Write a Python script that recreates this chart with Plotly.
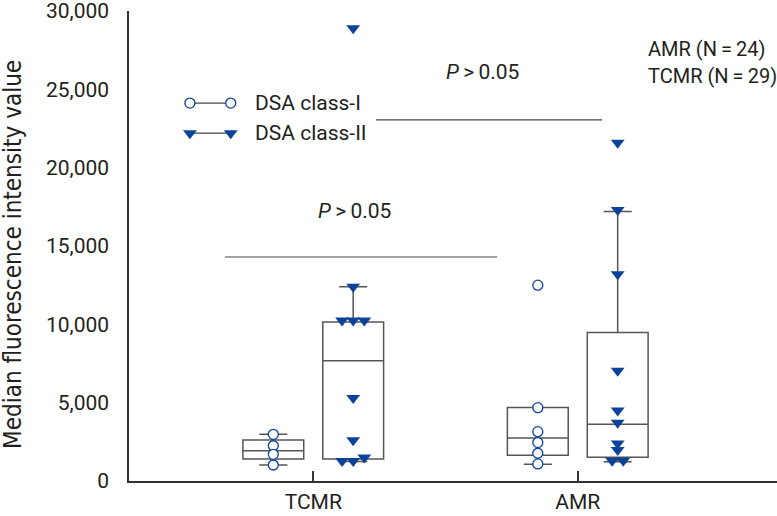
import plotly.graph_objects as go

# ---------------- data ----------------
categories = ["TCMR", "AMR"]

# individual points
tcmr_class1 = [2980, 2250, 1700, 1020]
tcmr_class2 = [28900, 12400, 10250, 10250, 10250, 5300, 2600, 1500, 1280, 1280]
amr_class1 = [12500, 4680, 3150, 2450, 1770, 1090]
amr_class2 = [21600, 17300, 13200, 7040, 4500, 3720, 2400, 1980, 1300, 1300]

# box statistics per category (TCMR, AMR)
class1_q1 = [1400, 1640]
class1_median = [1930, 2740]
class1_q3 = [2620, 4700]
class1_lower = [1020, 1070]
class1_upper = [2980, 4700]

class2_q1 = [1400, 1510]
class2_median = [7680, 3620]
class2_q3 = [10150, 9480]
class2_lower = [1250, 1230]
class2_upper = [12400, 17200]

y_ticks = [0, 5000, 10000, 15000, 20000, 25000, 30000]

# ---------------- styling / layout ----------------
FONT = "Roboto, Liberation Sans, sans-serif"
TITLE_FONT = "DejaVu Sans Condensed, Roboto, sans-serif"
FS = 21
TXT = "#231f20"
BLUE = "#0b429a"
BOXLINE = "#555555"
OFFSET = 0.151       # half distance between class-I and class-II boxes
BOXW = 0.23
DX = 0.042           # horizontal spread between overlapping markers
ROW_TOL = 380        # values closer than this share a row

pos = {c: i + 1 for i, c in enumerate(categories)}


def swarm(values, center):
    """Spread overlapping points side by side (centred rows)."""
    order = sorted(range(len(values)), key=lambda i: values[i])
    rows, cur = [], [order[0]]
    for i in order[1:]:
        if values[i] - values[cur[-1]] < ROW_TOL:
            cur.append(i)
        else:
            rows.append(cur)
            cur = [i]
    rows.append(cur)
    xs = [0.0] * len(values)
    for r in rows:
        n = len(r)
        for k, i in enumerate(r):
            xs[i] = center + (k - (n - 1) / 2) * DX
    return xs


fig = go.Figure()

xs1 = [pos[c] - OFFSET for c in categories]
xs2 = [pos[c] + OFFSET for c in categories]

for xs, q1, med, q3, lo, hi in [
    (xs1, class1_q1, class1_median, class1_q3, class1_lower, class1_upper),
    (xs2, class2_q1, class2_median, class2_q3, class2_lower, class2_upper),
]:
    fig.add_trace(go.Box(
        x=xs, q1=q1, median=med, q3=q3, lowerfence=lo, upperfence=hi,
        width=BOXW, whiskerwidth=0.46,
        line=dict(color=BOXLINE, width=1.5),
        fillcolor="rgba(0,0,0,0)", boxpoints=False, showlegend=False,
        hoverinfo="skip",
    ))

series = [
    (tcmr_class1, pos["TCMR"] - OFFSET, "circle-open"),
    (amr_class1, pos["AMR"] - OFFSET, "circle-open"),
    (tcmr_class2, pos["TCMR"] + OFFSET, "triangle-down"),
    (amr_class2, pos["AMR"] + OFFSET, "triangle-down"),
]
CIRCLE = dict(symbol="circle", size=10, color="white",
              line=dict(color=BLUE, width=1.3))
TRI = dict(symbol="triangle-down", size=12, color=BLUE, line=dict(width=0))
for vals, cx, sym in series:
    mk = CIRCLE if sym == "circle-open" else TRI
    fig.add_trace(go.Scatter(
        x=swarm(vals, cx), y=vals, mode="markers", marker=mk,
        showlegend=False, cliponaxis=False, hoverinfo="skip",
    ))

# manual legend on an overlay axis (paper-like 0..1)
leg = [("DSA class-I", 0.804, CIRCLE), ("DSA class-II", 0.740, TRI)]
for name, yy, mk in leg:
    fig.add_trace(go.Scatter(
        x=[0.094, 0.157], y=[yy, yy], mode="lines+markers",
        line=dict(color="#444444", width=1.2), marker=mk,
        xaxis="x2", yaxis="y2", showlegend=False, hoverinfo="skip",
    ))
    fig.add_annotation(x=0.191, y=yy, xref="x2", yref="y2", text=name,
                       showarrow=False, xanchor="left", yanchor="middle",
                       font=dict(family=FONT, size=FS, color=TXT))

# significance bars
fig.add_shape(type="line", x0=0.666, x1=1.695, y0=14300, y1=14300,
              xref="x", yref="y", line=dict(color="#444444", width=1.2))
fig.add_shape(type="line", x0=1.237, x1=2.092, y0=23050, y1=23050,
              xref="x", yref="y", line=dict(color="#444444", width=1.2))
fig.add_annotation(x=1.157, y=17230, text="<i>P</i>\u2009>\u20090.05",
                   showarrow=False, font=dict(family=FONT, size=FS, color=TXT))
fig.add_annotation(x=1.641, y=26100, text="<i>P</i>\u2009>\u20090.05",
                   showarrow=False, font=dict(family=FONT, size=FS, color=TXT))

fig.add_annotation(x=2.258, y=27570, text="AMR (N\u2009=\u200924)",
                   showarrow=False, xanchor="left",
                   font=dict(family=FONT, size=20, color=TXT))
fig.add_annotation(x=2.258, y=25850, text="TCMR (N\u2009=\u200929)",
                   showarrow=False, xanchor="left",
                   font=dict(family=FONT, size=20, color=TXT))

# y-axis title
fig.add_annotation(x=-0.1782, y=0.482, xref="paper", yref="paper",
                   text="Median fluorescence intensity value", textangle=-90,
                   showarrow=False, xanchor="center", yanchor="middle",
                   borderpad=0,
                   font=dict(family=TITLE_FONT, size=24, color=TXT))

fig.update_layout(
    width=777, height=516,
    margin=dict(l=129, r=0, t=11, b=35, autoexpand=False),
    paper_bgcolor="white", plot_bgcolor="white",
    font=dict(family=FONT, size=FS, color=TXT),
    xaxis=dict(
        range=[0.3034, 2.7533], tickmode="array",
        tickvals=[pos[c] for c in categories], ticktext=categories,
        ticks="inside", ticklen=10, tickwidth=1.5, tickcolor="#333333",
        showline=True, linecolor="#333333", linewidth=1.5,
        showgrid=False, zeroline=False, ticklabelstandoff=1,
        automargin=False, ticklabeloverflow="allow",
        tickfont=dict(family=FONT, size=FS, color=TXT),
    ),
    yaxis=dict(
        range=[0, 30005], tickmode="array", tickvals=y_ticks,
        tickformat=",", ticks="", showline=True, linecolor="#333333",
        linewidth=1.5, showgrid=False, zeroline=False,
        ticklabelstandoff=14, automargin=False, ticklabeloverflow="allow",
        tickfont=dict(family=FONT, size=FS, color=TXT),
    ),
    xaxis2=dict(range=[0, 1], overlaying="x", visible=False, fixedrange=True),
    yaxis2=dict(range=[0, 1], overlaying="y", visible=False, fixedrange=True),
    showlegend=False,
)

fig.write_html(
    "out.html",
    config={"displayModeBar": False},
    post_script="document.body.style.margin='0';document.body.style.overflow='hidden';",
)
